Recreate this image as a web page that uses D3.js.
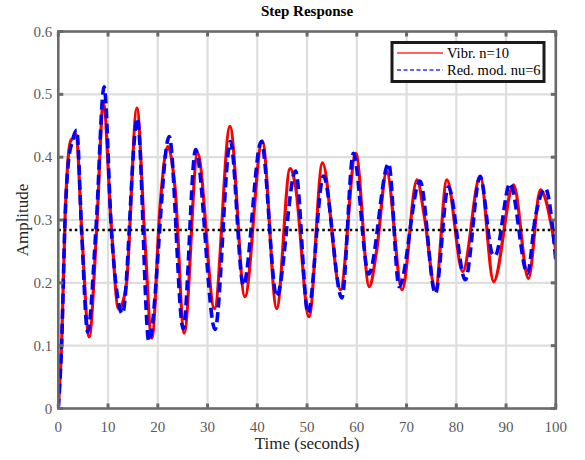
<!DOCTYPE html>
<html><head><meta charset="utf-8">
<script src="https://cdn.jsdelivr.net/npm/d3@7"></script>
<style>body{margin:0;background:#fff}svg{display:block}</style>
</head><body>
<script>
// ---- data ----
const xTicks = [0,10,20,30,40,50,60,70,80,90,100];
const yTicks = [0,0.1,0.2,0.3,0.4,0.5,0.6];
const finalValue = 0.284;
const vibrT = [0,0.7,1.35,2.0,2.6,3.1,3.6,4.7,6.2,7.7,9.05,10.7,12.1,13.0,13.7,15.8,17.3,18.8,20.5,22.0,23.5,25.3,28.0,31.4,34.5,37.5,41.0,43.9,46.6,47.6,50.4,53.1,56.7,59.8,62.5,64.0,66.0,69.1,72.1,73.6,75.8,78.1,81.3,84.8,87.5,91.5,94.5,96.9,100];
const vibrV = [0,0.11,0.30,0.40,0.428,0.43,0.436,0.284,0.114,0.284,0.486,0.284,0.159,0.17,0.199,0.478,0.284,0.112,0.327,0.417,0.348,0.12,0.406,0.159,0.449,0.178,0.426,0.159,0.382,0.358,0.146,0.391,0.189,0.406,0.194,0.252,0.377,0.189,0.364,0.305,0.189,0.364,0.218,0.37,0.202,0.356,0.207,0.348,0.252];
const redT = [0,0.7,1.35,2.0,2.8,3.7,4.7,5.9,7.6,9.2,10.7,12.9,15.9,18.2,22.3,25.1,27.6,31.5,34.6,37.2,40.8,43.9,47.7,50.2,53.3,57.0,59.3,62.4,66.4,68.5,72.7,75.8,78.4,81.8,84.8,87.2,87.8,90.8,94.3,95.9,97.9,100];
const redV = [0,0.11,0.30,0.39,0.425,0.443,0.28,0.122,0.29,0.512,0.28,0.151,0.462,0.107,0.433,0.127,0.412,0.126,0.425,0.196,0.425,0.178,0.378,0.152,0.37,0.176,0.406,0.214,0.39,0.194,0.362,0.183,0.353,0.205,0.369,0.247,0.243,0.358,0.215,0.305,0.35,0.236];
const legendLabels = ["Vibr. n=10","Red. mod. nu=6"];

// ---- layout ----
const W=585,H=460;
const m={l:58.3,r:W-555.8,t:31.5,b:H-408.5};
const svg=d3.select("body").append("svg").attr("width",W).attr("height",H);
const x=d3.scaleLinear().domain([0,100]).range([m.l,W-m.r]);
const y=d3.scaleLinear().domain([0,0.6]).range([H-m.b,m.t]);
const font="'Liberation Serif','Times New Roman',serif";
const frame="#6a6a6a";

// grid
svg.append("g").selectAll("line").data(xTicks.slice(1,-1)).join("line")
  .attr("x1",d=>x(d)).attr("x2",d=>x(d)).attr("y1",y(0)).attr("y2",y(0.6))
  .attr("stroke","#dedede").attr("stroke-width",2.2);
svg.append("g").selectAll("line").data(yTicks.slice(1,-1)).join("line")
  .attr("y1",d=>y(d)).attr("y2",d=>y(d)).attr("x1",x(0)).attr("x2",x(100))
  .attr("stroke","#dedede").attr("stroke-width",2.2);

// clip
svg.append("clipPath").attr("id","clip").append("rect")
  .attr("x",x(0)).attr("y",y(0.6)).attr("width",x(100)-x(0)).attr("height",y(0)-y(0.6));

const line=d3.line().x(d=>x(d[0])).y(d=>y(d[1])).curve(d3.curveMonotoneX);
const g=svg.append("g").attr("clip-path","url(#clip)");
g.append("path").datum(vibrT.map((t,i)=>[t,vibrV[i]])).attr("d",line)
  .attr("fill","none").attr("stroke","#ff0000").attr("stroke-width",3.2).attr("stroke-linejoin","round");
g.append("path").datum(redT.map((t,i)=>[t,redV[i]])).attr("d",line)
  .attr("fill","none").attr("stroke","#0000ff").attr("stroke-width",3.6).attr("stroke-dasharray","10,5");
g.append("line").attr("x1",x(0)).attr("x2",x(100)).attr("y1",y(finalValue)).attr("y2",y(finalValue))
  .attr("stroke","#000").attr("stroke-width",2.6).attr("stroke-dasharray","2.5,3");

// axes (inside ticks)
const tickLen=5;
const ax=svg.append("g");
ax.append("rect").attr("x",x(0)).attr("y",y(0.6)).attr("width",x(100)-x(0)).attr("height",y(0)-y(0.6))
  .attr("fill","none").attr("stroke",frame).attr("stroke-width",2.6);
xTicks.forEach(d=>{
  ax.append("line").attr("x1",x(d)).attr("x2",x(d)).attr("y1",y(0)).attr("y2",y(0)-tickLen).attr("stroke",frame).attr("stroke-width",3);
  ax.append("line").attr("x1",x(d)).attr("x2",x(d)).attr("y1",y(0.6)).attr("y2",y(0.6)+tickLen).attr("stroke",frame).attr("stroke-width",3);
});
yTicks.forEach(d=>{
  ax.append("line").attr("y1",y(d)).attr("y2",y(d)).attr("x1",x(0)).attr("x2",x(0)+tickLen).attr("stroke",frame).attr("stroke-width",3);
  ax.append("line").attr("y1",y(d)).attr("y2",y(d)).attr("x1",x(100)).attr("x2",x(100)-tickLen).attr("stroke",frame).attr("stroke-width",3);
});
svg.append("g").selectAll("text").data(xTicks).join("text")
  .attr("x",d=>x(d)).attr("y",y(0)+23).attr("text-anchor","middle")
  .attr("font-family",font).attr("font-size",15).attr("fill","#5a5a5a").text(d=>d);
svg.append("g").selectAll("text").data(yTicks).join("text")
  .attr("x",x(0)-6).attr("y",d=>y(d)+5).attr("text-anchor","end")
  .attr("font-family",font).attr("font-size",15).attr("fill","#5a5a5a").text(d=>d);

// labels
svg.append("text").attr("x",(x(0)+x(100))/2).attr("y",16).attr("text-anchor","middle")
  .attr("font-family",font).attr("font-size",15).attr("font-weight","bold").attr("fill","#000").text("Step Response");
svg.append("text").attr("x",(x(0)+x(100))/2).attr("y",449).attr("text-anchor","middle")
  .attr("font-family",font).attr("font-size",17).attr("fill","#262626").text("Time (seconds)");
svg.append("text").attr("transform",`translate(28,${(y(0)+y(0.6))/2}) rotate(-90)`).attr("text-anchor","middle")
  .attr("font-family",font).attr("font-size",17).attr("fill","#262626").text("Amplitude");

// legend
const lg=svg.append("g");
lg.append("rect").attr("x",392).attr("y",42.5).attr("width",152).attr("height",39)
  .attr("fill","#fff").attr("stroke","#1a1a1a").attr("stroke-width",3);
lg.append("line").attr("x1",397).attr("x2",443).attr("y1",53).attr("y2",53).attr("stroke","#ff3030").attr("stroke-width",1.6);
lg.append("line").attr("x1",397).attr("x2",443).attr("y1",70).attr("y2",70).attr("stroke","#3030ff").attr("stroke-width",1.6).attr("stroke-dasharray","4,2.5");
lg.selectAll("text").data(legendLabels).join("text")
  .attr("x",447).attr("y",(d,i)=>58+i*17).attr("font-family",font).attr("font-size",14.5).attr("fill","#000").text(d=>d);
</script>
</body></html>
